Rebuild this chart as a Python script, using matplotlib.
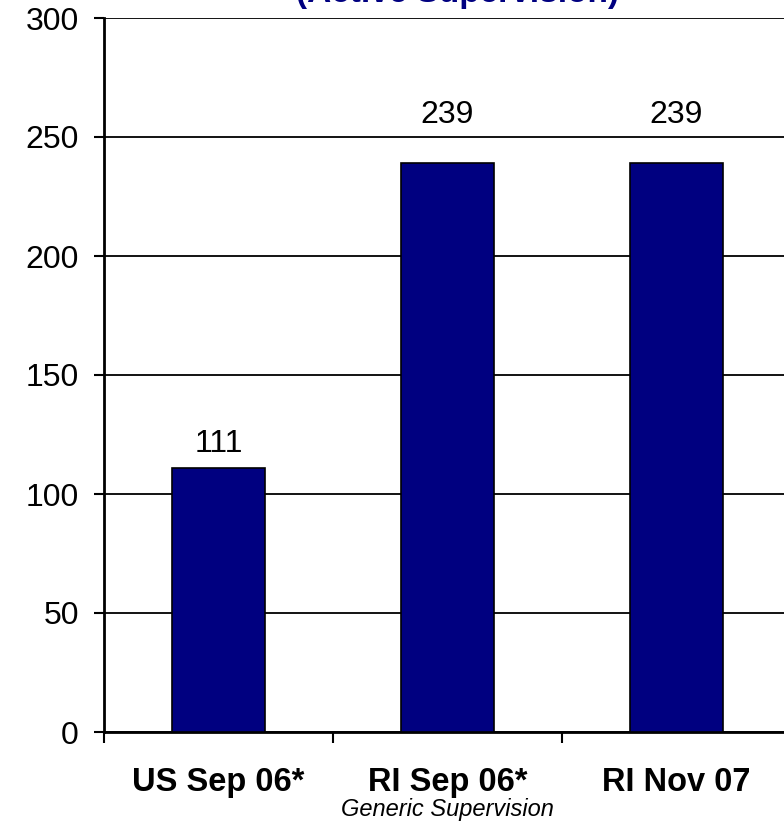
import matplotlib
matplotlib.use("Agg")
import matplotlib.pyplot as plt
import numpy as np

categories = ["US Sep 06*", "RI Sep 06*", "RI Nov 07"]
values = [111, 239, 239]
label_pad = [6, 24, 24]  # points above bar top for the value labels
y_ticks = [0, 50, 100, 150, 200, 250, 300]

plt.rcParams['font.family'] = ['Liberation Sans', 'DejaVu Sans']

fig = plt.figure(figsize=(7.84, 8.24), dpi=100)
ax = fig.add_axes([104/784, 92/824, 687/784, 714/824])

x = np.arange(len(categories))
ax.bar(x, values, width=0.41, color='#000080', edgecolor='black', linewidth=1.2, zorder=3)

for xi, v, pad in zip(x, values, label_pad):
    ax.annotate(str(v), (xi, v), xytext=(0, pad), textcoords='offset points',
                ha='center', va='bottom', fontsize=23, color='black')

ax.set_xlim(-0.5, len(categories) - 0.5)
ax.set_ylim(0, 300)
ax.set_yticks(y_ticks)
ax.yaxis.grid(True, color='black', linewidth=1.3, zorder=0)
ax.set_axisbelow(True)
ax.tick_params(axis='y', direction='out', length=7, width=1.5, labelsize=23, pad=11)

# category labels in the middle, tick marks on the boundaries
ax.set_xticks(x)
ax.set_xticklabels(categories, fontsize=23.5, fontweight='bold')
ax.tick_params(axis='x', which='major', length=0, pad=25)
ax.set_xticks(np.arange(len(categories) + 1) - 0.5, minor=True)
ax.tick_params(axis='x', which='minor', direction='out', length=8, width=1.5)

ax.set_xlabel("Generic Supervision", fontsize=17, fontstyle='italic', labelpad=0)

for side in ['right', 'top']:
    ax.spines[side].set_visible(False)
ax.spines['left'].set_linewidth(2)
ax.spines['bottom'].set_linewidth(2)

fig.text(458/784, 1 - 9/824, "(Active Supervision)", ha='center', va='bottom',
         fontsize=24, fontweight='bold', color='#000080')

fig.savefig("out.png", dpi=100)
